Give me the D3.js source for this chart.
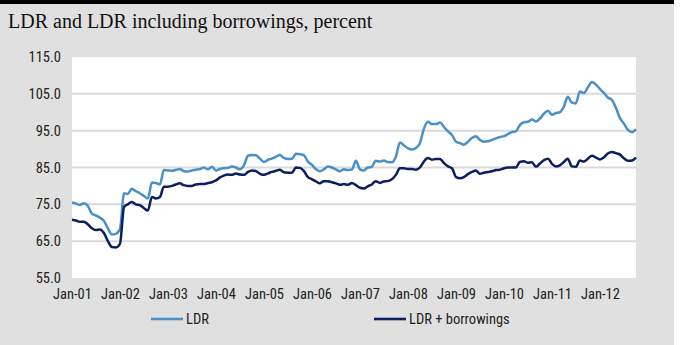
<!DOCTYPE html>
<html>
<head>
<meta charset="utf-8">
<script src="https://cdn.jsdelivr.net/npm/d3@7"></script>
<style>
  body { margin: 0; background: #fff; }
  svg { display: block; }
</style>
</head>
<body>
<script>
// Monthly values, Jan-01 .. Oct-12
var startMonth = new Date(2001, 0, 1);

var ldr = [
  75.5, 75.2, 74.8, 75.3, 74.6, 72.5, 72.0, 71.4, 70.5, 68.5, 66.8, 67.0,
  68.3, 78.0, 77.8, 79.2, 78.6, 78.0, 77.3, 76.6, 80.9, 80.8, 80.4, 84.3,
  84.2, 84.1, 84.3, 84.6, 84.0, 83.9, 84.2, 84.4, 84.6, 85.0, 84.5, 85.2,
  84.2, 84.6, 84.8, 84.9, 85.3, 85.0, 84.5, 85.6, 88.2, 88.4, 88.3, 87.4,
  86.5, 87.1, 87.4, 87.9, 88.4, 87.6, 87.3, 87.4, 88.7, 88.6, 88.3, 86.6,
  85.7, 84.5, 84.0, 84.5, 85.3, 85.0, 84.5, 84.0, 84.5, 84.3, 84.5, 86.8,
  84.5, 84.2, 85.0, 85.2, 86.8, 86.6, 86.9, 86.5, 86.4, 87.9, 91.8, 91.0,
  90.2, 89.9, 90.3, 91.6, 95.5, 97.4, 96.8, 96.8, 97.2, 96.0, 94.8, 93.8,
  92.0, 91.6, 91.2, 92.0, 93.0, 93.5, 92.5, 92.0, 92.1, 92.5, 92.9, 93.3,
  93.5, 94.1, 94.6, 94.8, 96.5, 97.3, 97.4, 98.0, 97.5, 98.3, 99.6, 100.4,
  99.3, 99.8, 100.0, 101.5, 104.2, 102.6, 102.4, 105.6, 105.2, 106.8, 108.2, 107.5,
  106.3, 105.2, 104.0, 103.3, 101.2, 98.4, 96.9, 95.2, 94.6, 95.4
];

var ldrBorrow = [
  70.8, 70.6, 70.3, 70.3, 69.6, 68.5, 68.0, 68.2, 67.2, 65.0, 63.4, 63.3,
  64.3, 74.3, 75.0, 75.6, 75.0, 74.8, 74.0, 73.3, 77.0, 76.6, 77.0, 79.8,
  79.8, 80.0, 80.4, 80.7, 80.2, 80.0, 80.0, 80.4, 80.5, 80.5, 80.8, 81.0,
  81.5, 82.3, 82.8, 83.1, 83.0, 83.4, 83.1, 83.0, 83.8, 84.2, 84.0, 83.3,
  83.0, 83.4, 83.8, 84.1, 84.4, 83.7, 83.6, 83.6, 85.0, 84.9, 84.0, 82.4,
  81.8, 81.2, 80.7, 81.3, 81.3, 81.0, 80.7, 80.3, 80.5, 80.3, 80.8, 80.2,
  79.5, 79.3, 79.9, 80.4, 81.3, 80.8, 81.2, 81.3, 81.8, 83.0, 84.8, 84.8,
  84.6, 84.6, 84.4, 85.0, 86.6, 87.6, 87.1, 87.3, 87.3, 86.2, 85.3, 84.8,
  82.4, 82.1, 82.4, 83.2, 83.8, 84.2, 83.3, 83.6, 83.8, 84.0, 84.3, 84.4,
  84.8, 85.0, 85.0, 85.0, 86.5, 86.7, 86.3, 86.4, 85.2, 86.1, 87.0, 87.4,
  86.0, 85.3, 85.6, 86.5, 87.4, 85.3, 85.2, 86.9, 86.6, 87.4, 88.2, 87.7,
  87.2, 87.8, 88.8, 89.2, 88.9, 88.5, 87.5, 86.8, 86.9, 87.7
];

var yTicks = [55, 65, 75, 85, 95, 105, 115];
var seriesNames = ["LDR", "LDR + borrowings"];
var seriesColors = ["#4a90c8", "#0c1e62"];

var W = 682, H = 345;
var plot = {left: 72, right: 636, top: 57, bottom: 278};
var labelFont = "Liberation Sans Narrow, Roboto Condensed, Roboto, sans-serif";

var svg = d3.select("body").append("svg")
    .attr("width", W)
    .attr("height", H);

// grey panel with black top band
svg.append("rect").attr("x", 0).attr("y", 0).attr("width", 674).attr("height", H).attr("fill", "#e0e0e0");
svg.append("rect").attr("x", 0).attr("y", 0).attr("width", 674).attr("height", 4).attr("fill", "#000");

svg.append("text")
    .attr("x", 8)
    .attr("y", 28)
    .attr("font-family", "Liberation Serif, Times New Roman, serif")
    .attr("font-size", 20)
    .attr("fill", "#111")
    .text("LDR and LDR including borrowings, percent");

var dates = ldr.map(function(d, i) { return d3.timeMonth.offset(startMonth, i); });

var x = d3.scaleTime()
    .domain([dates[0], dates[dates.length - 1]])
    .range([plot.left, plot.right]);

var y = d3.scaleLinear()
    .domain([55, 115])
    .range([plot.bottom, plot.top]);

svg.append("rect")
    .attr("x", plot.left).attr("y", plot.top)
    .attr("width", plot.right - plot.left)
    .attr("height", plot.bottom - plot.top)
    .attr("fill", "#fff");

// gridlines
svg.append("g")
    .selectAll("line")
    .data(yTicks.slice(1, -1))
    .enter().append("line")
    .attr("x1", plot.left).attr("x2", plot.right)
    .attr("y1", function(d) { return y(d); })
    .attr("y2", function(d) { return y(d); })
    .attr("stroke", "#d9d9d9")
    .attr("stroke-width", 2);

// y axis labels
var yAxis = svg.append("g")
    .attr("transform", "translate(" + plot.left + ",0)")
    .call(d3.axisLeft(y).tickValues(yTicks).tickSize(0).tickPadding(11)
        .tickFormat(d3.format(".1f")));
yAxis.select(".domain").remove();
yAxis.selectAll("text")
    .attr("font-family", labelFont)
    .attr("font-size", 14.5)
    .attr("fill", "#222");

// x axis labels
var xAxis = svg.append("g")
    .attr("transform", "translate(0," + plot.bottom + ")")
    .call(d3.axisBottom(x).ticks(d3.timeYear.every(1)).tickSize(0).tickPadding(11)
        .tickFormat(d3.timeFormat("%b-%y")));
xAxis.select(".domain").remove();
xAxis.selectAll("text")
    .attr("font-family", labelFont)
    .attr("font-size", 14.5)
    .attr("fill", "#222");

var line = d3.line()
    .x(function(d, i) { return x(dates[i]); })
    .y(function(d) { return y(d); })
    .curve(d3.curveMonotoneX);

[ldr, ldrBorrow].forEach(function(s, k) {
  svg.append("path")
      .datum(s)
      .attr("d", line)
      .attr("fill", "none")
      .attr("stroke", seriesColors[k])
      .attr("stroke-width", 2.5)
      .attr("stroke-linejoin", "round");
});

// legend
var legendX = [151, 374];
var lg = svg.append("g").selectAll("g")
    .data(seriesNames)
    .enter().append("g")
    .attr("transform", function(d, i) { return "translate(" + legendX[i] + ",319)"; });

lg.append("line")
    .attr("x1", 0).attr("x2", 32)
    .attr("stroke", function(d, i) { return seriesColors[i]; })
    .attr("stroke-width", 2.6);

lg.append("text")
    .attr("x", 35)
    .attr("y", 5)
    .attr("font-family", labelFont)
    .attr("font-size", 14.5)
    .attr("fill", "#222")
    .text(function(d) { return d; });
</script>
</body>
</html>
